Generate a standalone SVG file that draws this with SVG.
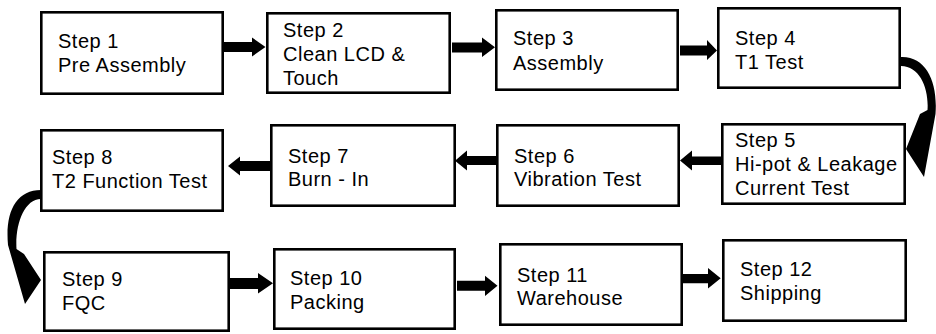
<svg xmlns="http://www.w3.org/2000/svg" width="936" height="334" viewBox="0 0 936 334">
<style>
.box{fill:#fff;stroke:#000;stroke-width:2.6}
.t{font-family:"Liberation Sans",Arial,sans-serif;font-size:20px;letter-spacing:0.5px;fill:#000}
.ar{fill:#000}
</style>
<rect width="936" height="334" fill="#fff"/>
<g id="connectors">
<polygon class="ar" points="224,42 252,42 252,37.5 265.5,47 252,56.5 252,52 224,52"/>
<polygon class="ar" points="452,42.5 482,42.5 482,37.5 495,47.3 482,57 482,52.5 452,52.5"/>
<polygon class="ar" points="680,45.5 707,45.5 707,40 717,50.5 707,60 707,55.5 680,55.5"/>
<polygon class="ar" points="721,156.5 692,156.5 692,150.5 680,160.5 692,170.5 692,165 721,165"/>
<polygon class="ar" points="496,156 467,156 467,150.5 455,160.7 467,170.5 467,165 496,165"/>
<polygon class="ar" points="270,161 240,161 240,156.5 228,166 240,175.5 240,171 270,171"/>
<polygon class="ar" points="230,278 258,278 258,273 273,283.3 258,293.5 258,289 230,289"/>
<polygon class="ar" points="457,280.7 485,280.7 485,275.7 497.5,285.7 485,296 485,290.7 457,290.7"/>
<polygon class="ar" points="683,274 708,274 708,268 720.7,278.3 708,288.5 708,283.3 683,283.3"/>
<path class="ar" d="M901,57 C926,56 938,82 935.5,114 L924,177 L906,149 L920,114 L927.5,110 C929,89 920,66 901,66 Z"/>
<path class="ar" d="M41,190 C16,190 5,212 8,245 L25,304 L41,280 L24,254 L16.5,249 C15,225 24,199 41,199 Z"/>
</g>
<g id="step1"><rect class="box" x="41.3" y="12.3" width="181.4" height="81.4"/><text class="t" x="58" y="47.5">Step 1</text><text class="t" x="58" y="71.5">Pre Assembly</text></g>
<g id="step2"><rect class="box" x="267.3" y="13.3" width="182.4" height="79.4"/><text class="t" x="283" y="36.5">Step 2</text><text class="t" x="283" y="61">Clean LCD &amp;</text><text class="t" x="283" y="85">Touch</text></g>
<g id="step3"><rect class="box" x="496.3" y="10.3" width="181.4" height="79.4"/><text class="t" x="513" y="45">Step 3</text><text class="t" x="513" y="69.5">Assembly</text></g>
<g id="step4"><rect class="box" x="718.3" y="8.3" width="181.4" height="79.4"/><text class="t" x="735" y="45">Step 4</text><text class="t" x="735" y="69">T1 Test</text></g>
<g id="step5"><rect class="box" x="722.3" y="124.3" width="182.4" height="79.4"/><text class="t" x="735" y="146.5">Step 5</text><text class="t" x="735" y="170.5">Hi-pot &amp; Leakage</text><text class="t" x="735" y="195">Current Test</text></g>
<g id="step6"><rect class="box" x="497.3" y="125.3" width="181.4" height="80.4"/><text class="t" x="514" y="162.5">Step 6</text><text class="t" x="514" y="186">Vibration Test</text></g>
<g id="step7"><rect class="box" x="271.3" y="125.3" width="183.4" height="80.4"/><text class="t" x="288" y="162.5">Step 7</text><text class="t" x="288" y="186">Burn - In</text></g>
<g id="step8"><rect class="box" x="41.3" y="130.3" width="181.4" height="80.4"/><text class="t" x="52" y="164">Step 8</text><text class="t" x="52" y="188">T2 Function Test</text></g>
<g id="step9"><rect class="box" x="44.3" y="252.3" width="184.4" height="78.4"/><text class="t" x="62" y="286">Step 9</text><text class="t" x="62" y="310">FQC</text></g>
<g id="step10"><rect class="box" x="274.3" y="249.3" width="180.4" height="79.4"/><text class="t" x="290" y="285">Step 10</text><text class="t" x="290" y="308.5">Packing</text></g>
<g id="step11"><rect class="box" x="500.3" y="244.3" width="181.4" height="80.4"/><text class="t" x="517" y="281.5">Step 11</text><text class="t" x="517" y="305">Warehouse</text></g>
<g id="step12"><rect class="box" x="723.3" y="240.3" width="182.4" height="80.4"/><text class="t" x="740" y="276">Step 12</text><text class="t" x="740" y="300">Shipping</text></g>
</svg>
